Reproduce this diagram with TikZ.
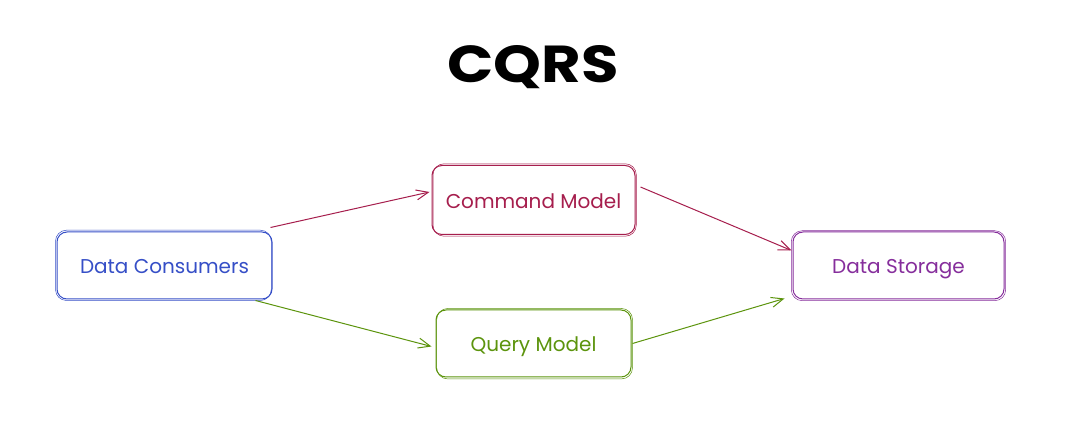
\documentclass[tikz,border=0pt]{standalone}
\usepackage{fontspec}
\setmainfont{Poppins}
\usetikzlibrary{arrows.meta,calc}
\definecolor{cblue}{HTML}{364FC7}
\definecolor{cred}{HTML}{A61E4D}
\definecolor{cgreen}{HTML}{5C940D}
\definecolor{cviolet}{HTML}{862E9C}
\begin{document}
\begin{tikzpicture}[x=1pt,y=1pt,
  box/.style={draw, rounded corners=10pt, line width=1pt, inner sep=0pt,
    minimum height=67pt, text height=17pt, text depth=0pt,
    font=\fontsize{20}{20}\selectfont},
  sketch/.style={line width=0.5pt, rounded corners=11pt},
  conn/.style={line width=1pt, -{Straight Barb[length=12pt,width=10pt,line width=1pt]}},
]
\fill[white] (0,0) rectangle (1080,434);
\useasboundingbox (0,0) rectangle (1080,434);
\node[font=\fontsize{52}{52}\selectfont\bfseries] (title) at (533,367) {\scalebox{1.17}[1]{CQRS}};
\node[box, cred, minimum width=203pt, minimum height=69pt] (cm) at (533.5,234) {Command Model};
\node[box, cblue, minimum width=215pt] (dc) at (164.5,168.5) {Data Consumers};
\node[box, cgreen, minimum width=195pt] (qm) at (533.5,90.5) {Query Model};
\node[box, cviolet, minimum width=211pt] (ds) at (898.5,168.5) {Data Storage};
\draw[sketch, cred] ($(cm.south west)+(1.5,-1.2)$) rectangle ($(cm.north east)+(0.8,1.2)$);
\draw[sketch, cblue] ($(dc.south west)+(-1,-1)$) rectangle ($(dc.north east)+(-1.2,1.3)$);
\draw[sketch, cgreen] ($(qm.south west)+(1.2,-1.4)$) rectangle ($(qm.north east)+(1,1)$);
\draw[sketch, cviolet] ($(ds.south west)+(-1.2,-1.2)$) rectangle ($(ds.north east)+(1.2,0.8)$);
\draw[conn, cred] ($(dc.north east)+(-2,4)$) -- ($(cm.west)+(-2,8)$);
\draw[conn, cred] ($(cm.east)+(5,13)$) -- ($(ds.west)+(-1,15)$);
\draw[conn, cgreen] ($(dc.south east)+(-17,-1)$) -- ($(qm.west)+(-4,-3)$);
\draw[conn, cgreen] ($(qm.east)+(1,0)$) -- ($(ds.south west)+(-8,1)$);
\end{tikzpicture}
\end{document}
